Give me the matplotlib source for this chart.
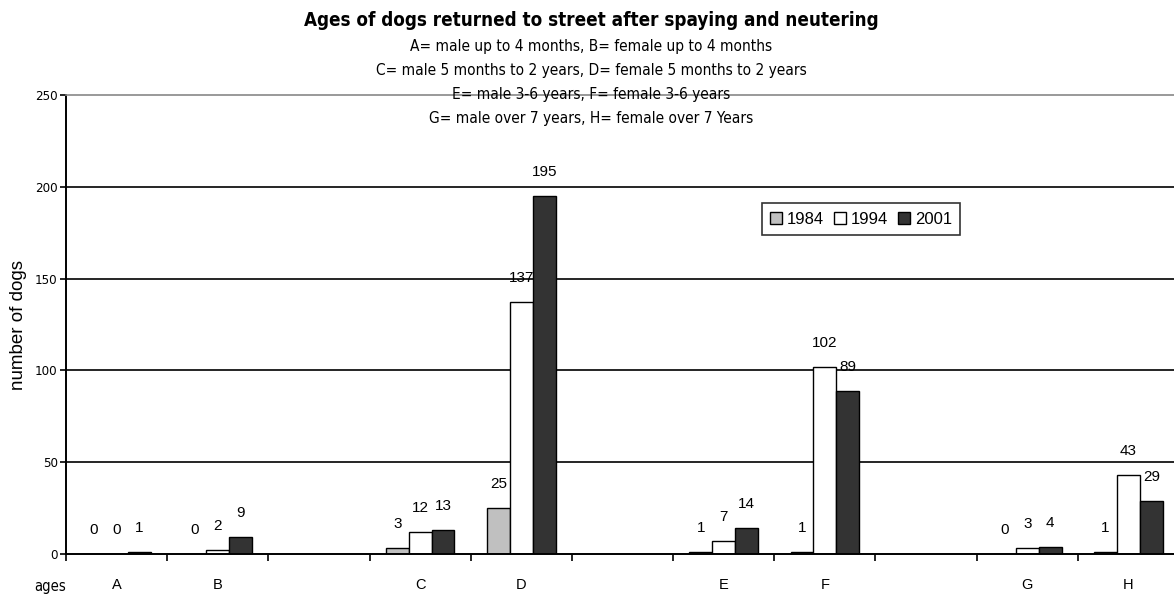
import matplotlib
matplotlib.use('Agg')
import matplotlib.pyplot as plt
import numpy as np

# ---- data ----
categories = ['A', 'B', '', 'C', 'D', '', 'E', 'F', '', 'G', 'H']
years = ['1984', '1994', '2001']
v1984 = [0, 0, np.nan, 3, 25, np.nan, 1, 1, np.nan, 0, 1]
v1994 = [0, 2, np.nan, 12, 137, np.nan, 7, 102, np.nan, 3, 43]
v2001 = [1, 9, np.nan, 13, 195, np.nan, 14, 89, np.nan, 4, 29]
series = [v1984, v1994, v2001]
colors = ['#c0c0c0', '#ffffff', '#333333']

title = 'Ages of dogs returned to street after spaying and neutering'
subtitle = ['A= male up to 4 months, B= female up to 4 months',
            'C= male 5 months to 2 years, D= female 5 months to 2 years',
            'E= male 3-6 years, F= female 3-6 years',
            'G= male over 7 years, H= female over 7 Years']
yticks = [0, 50, 100, 150, 200, 250]

NARROW = ['Liberation Sans Narrow', 'DejaVu Sans']
SANS = ['Liberation Sans', 'DejaVu Sans']

W, H = 1174, 598
fig = plt.figure(figsize=(W / 100, H / 100), dpi=100)
ax = fig.add_axes([66 / W, 44 / H, (1179 - 66) / W, 459 / H])

x = np.arange(len(categories))
bw = 0.226
for i, (vals, col, yr) in enumerate(zip(series, colors, years)):
    vals = np.array(vals, dtype=float)
    m = ~np.isnan(vals)
    xs = x[m] + (i - 1) * bw
    ax.bar(xs, vals[m], width=bw, color=col, edgecolor='black',
           linewidth=1.0, label=yr, zorder=2)
    for xx, vv in zip(xs, vals[m]):
        ax.annotate(f'{int(vv)}', (xx, vv), xytext=(0, 24),
                    textcoords='offset pixels', ha='center', va='center',
                    fontsize=11, family=SANS, zorder=3)

ax.set_xlim(-0.5, len(categories) - 0.5)
ax.set_ylim(0, 250)
ax.set_yticks(yticks)
ax.set_yticklabels([str(t) for t in yticks], family=NARROW,
                   fontstretch='condensed', fontsize=9.5)
ax.tick_params(axis='y', length=4, width=1.2, pad=2)

ax.set_xticks(x)
ax.set_xticklabels(categories, family=SANS, fontsize=10.5)
ax.tick_params(axis='x', which='major', length=0, pad=17)
ax.set_xticks(np.arange(-0.5, len(categories) + 0.5, 1), minor=True)
ax.tick_params(axis='x', which='minor', length=5, width=1.2, direction='out')

for yv in yticks[1:-1]:
    ax.axhline(yv, color='black', linewidth=1.2, zorder=1)

ax.spines['top'].set_color('#888888')
ax.spines['top'].set_linewidth(1.2)
ax.spines['right'].set_visible(False)
ax.spines['left'].set_linewidth(1.4)
ax.spines['bottom'].set_linewidth(1.4)

ax.set_ylabel('number of dogs', family=SANS, fontsize=13.5, labelpad=6)

fig.text(50 / W, 1 - 587 / H, 'ages', ha='center', va='center',
         family=NARROW, fontstretch='condensed', fontsize=10.5)

fig.text(591 / W, 1 - 20 / H, title, ha='center', va='center',
         family=NARROW, fontstretch='condensed', fontsize=13.5,
         fontweight='bold')
for s, yy in zip(subtitle, [46, 70, 95, 118]):
    fig.text(591 / W, 1 - yy / H, s, ha='center', va='center',
             family=NARROW, fontstretch='condensed', fontsize=11.1)

leg = ax.legend(loc='center', bbox_to_anchor=(861 / W, 1 - 219 / H),
                bbox_transform=fig.transFigure, ncol=3, frameon=True,
                fancybox=False, edgecolor='black', handlelength=0.7,
                handleheight=0.7, handletextpad=0.3, columnspacing=0.6,
                borderpad=0.5, prop={'family': SANS, 'size': 12})
leg.get_frame().set_linewidth(1.2)

fig.savefig('out.png', dpi=100)
